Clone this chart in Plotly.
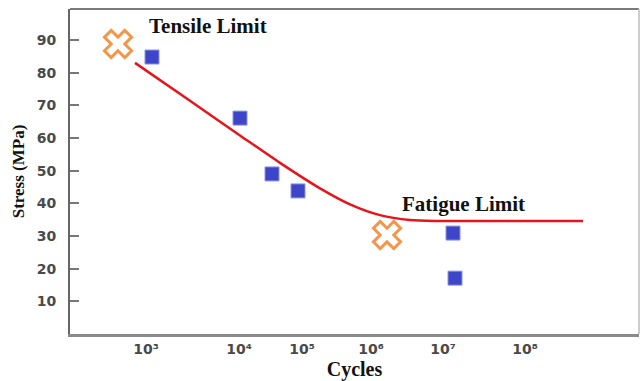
import plotly.graph_objects as go

# Axis positions of the cycle tick labels (irregular spacing as in the source figure)
cycle_labels = ["10³", "10⁴", "10⁵", "10⁶", "10⁷", "10⁸"]
cycle_pos = [76, 169, 232, 301, 373, 455]

stress_ticks = [10, 20, 30, 40, 50, 60, 70, 80, 90]

# Test data (blue squares)
test_x = [82, 170, 202, 228, 383, 385]
test_y = [84.8, 66.1, 49.0, 43.8, 30.9, 17.1]

# Limit markers (orange X)
limit_x = [48, 317]
limit_y = [88.8, 30.3]

# S-N curve
curve_x = [65, 120, 170, 210, 250, 280, 310, 340, 370, 440, 513]
curve_y = [83.0, 71.4, 60.8, 52.4, 44.6, 39.7, 36.4, 34.9, 34.6, 34.6, 34.6]

fig = go.Figure()
fig.add_trace(go.Scatter(x=curve_x, y=curve_y, mode="lines",
                         line=dict(color="#e8141c", width=2.5, shape="spline", smoothing=0.8),
                         hoverinfo="skip"))
fig.add_trace(go.Scatter(x=test_x, y=test_y, mode="markers",
                         marker=dict(symbol="square", size=14, color="#3d46c8",
                                     line=dict(color="#8d93e0", width=1))))
fig.add_trace(go.Scatter(x=limit_x, y=limit_y, mode="markers",
                         marker=dict(symbol="x", size=24, color="white",
                                     line=dict(color="#f4964a", width=3))))

fig.add_annotation(x=138, y=94.3, text="<b>Tensile Limit</b>", showarrow=False,
                   font=dict(family="Liberation Serif", size=21, color="#111"))
fig.add_annotation(x=393, y=39.8, text="<b>Fatigue Limit</b>", showarrow=False,
                   font=dict(family="Liberation Serif", size=21, color="#111"))

# frame: top and right edges
fig.add_shape(type="line", xref="paper", yref="paper", x0=0, x1=1, y0=1, y1=1,
              line=dict(color="#7a7a7a", width=2))
fig.add_shape(type="line", xref="paper", yref="paper", x0=1, x1=1, y0=0, y1=1,
              line=dict(color="#cccccc", width=2))

tick_font = dict(family="DejaVu Sans", size=14, color="#4a4a4a", weight="bold")

fig.update_layout(
    width=640, height=381,
    margin=dict(l=70, r=1, t=9, b=47),
    paper_bgcolor="white", plot_bgcolor="white",
    showlegend=False,
    xaxis=dict(range=[0, 569], tickvals=cycle_pos, ticktext=cycle_labels,
               ticks="", showgrid=False, zeroline=False, automargin=False,
               showline=True, linecolor="#8a8a8a", linewidth=3,
               tickfont=tick_font,
               title=dict(text="<b>Cycles</b>", standoff=12,
                          font=dict(family="Liberation Serif", size=20, color="#111"))),
    yaxis=dict(range=[0, 99.5], tickvals=stress_ticks,
               ticks="inside", ticklen=9, tickwidth=2, tickcolor="#777",
               ticklabelstandoff=9, automargin=False,
               showgrid=False, zeroline=False,
               showline=True, linecolor="#666", linewidth=2,
               tickfont=tick_font,
               title=dict(text="<b>Stress (MPa)</b>", standoff=8,
                          font=dict(family="Liberation Serif", size=17, color="#111"))),
)

fig.write_html("out.html")
